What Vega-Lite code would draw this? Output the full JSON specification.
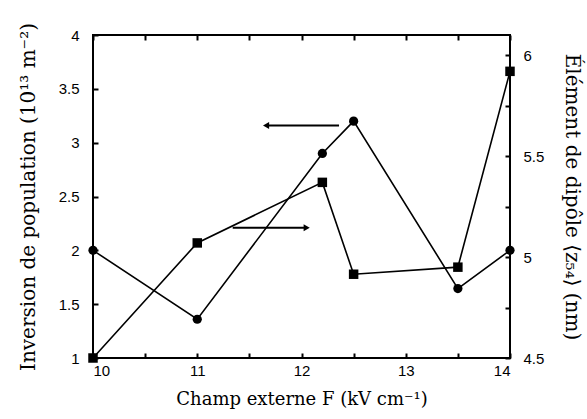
{
  "$schema": "https://vega.github.io/schema/vega-lite/v6.json",
  "autosize": {"type": "none"},
  "width": 417,
  "height": 323,
  "padding": {"left": 93, "top": 35, "right": 77, "bottom": 61},
  "background": "white",
  "config": {
    "view": {"stroke": "black", "strokeWidth": 2},
    "axis": {
      "domain": false,
      "grid": false,
      "ticks": true,
      "tickColor": "black",
      "tickWidth": 2,
      "tickSize": 5,
      "offset": -5,
      "labelFont": "Liberation Sans",
      "labelFontSize": 15,
      "labelColor": "black",
      "titleFont": "DejaVu Serif",
      "titleFontSize": 18,
      "titleFontWeight": "normal",
      "titleColor": "black"
    }
  },
  "datasets": {
    "pop": [
      {"F": 10, "v": 2.0},
      {"F": 11, "v": 1.36},
      {"F": 12.2, "v": 2.9},
      {"F": 12.5, "v": 3.2},
      {"F": 13.5, "v": 1.645},
      {"F": 14, "v": 2.0}
    ],
    "dip": [
      {"F": 10, "z": 4.5},
      {"F": 11, "z": 5.07},
      {"F": 12.2, "z": 5.37},
      {"F": 12.5, "z": 4.915},
      {"F": 13.5, "z": 4.95},
      {"F": 14, "z": 5.92}
    ],
    "arrows": [
      {"x1": 11.66, "x2": 12.36, "y": 3.16, "tip": 11.66, "dir": "left"},
      {"x1": 11.34, "x2": 12.05, "y": 2.21, "tip": 12.05, "dir": "right"}
    ]
  },
  "layer": [
    {
      "layer": [
        {
          "data": {"name": "pop"},
          "mark": {"type": "line", "color": "black", "strokeWidth": 1.6},
          "encoding": {
            "x": {
              "field": "F", "type": "quantitative",
              "scale": {"domain": [10, 14], "nice": false, "zero": false},
              "axis": {
                "orient": "bottom",
                "title": "Champ externe F (kV cm⁻¹)",
                "values": [10, 10.5, 11, 11.5, 12, 12.5, 13, 13.5, 14],
                "labelExpr": "datum.value % 1 == 0 ? datum.label : ''",
                "format": "~g",
                "labelPadding": 5,
                "titlePadding": 12
              }
            },
            "y": {
              "field": "v", "type": "quantitative",
              "scale": {"domain": [1, 4], "nice": false, "zero": false},
              "axis": {
                "title": "Inversion de population (10¹³ m⁻²)",
                "titleFontSize": 20,
                "values": [1, 1.25, 1.5, 1.75, 2, 2.25, 2.5, 2.75, 3, 3.25, 3.5, 3.75, 4],
                "labelExpr": "(datum.value * 2) % 1 == 0 ? datum.label : ''",
                "format": "~g",
                "labelPadding": 14,
                "titlePadding": 20
              }
            }
          }
        },
        {
          "data": {"name": "pop"},
          "mark": {"type": "point", "shape": "circle", "filled": true, "color": "black", "size": 85, "opacity": 1},
          "encoding": {
            "x": {"field": "F", "type": "quantitative"},
            "y": {"field": "v", "type": "quantitative"}
          }
        },
        {
          "data": {"name": "arrows"},
          "mark": {"type": "rule", "color": "black", "strokeWidth": 2},
          "encoding": {
            "x": {"field": "x1", "type": "quantitative"},
            "x2": {"field": "x2"},
            "y": {"field": "y", "type": "quantitative"}
          }
        },
        {
          "data": {"name": "arrows"},
          "mark": {"type": "point", "filled": true, "color": "black", "size": 50, "opacity": 1},
          "encoding": {
            "x": {"field": "tip", "type": "quantitative"},
            "y": {"field": "y", "type": "quantitative"},
            "shape": {
              "field": "dir", "type": "nominal",
              "scale": {"domain": ["left", "right"], "range": ["triangle-left", "triangle-right"]},
              "legend": null
            }
          }
        }
      ]
    },
    {
      "layer": [
        {
          "data": {"name": "dip"},
          "mark": {"type": "line", "color": "black", "strokeWidth": 1.6},
          "encoding": {
            "x": {
              "field": "F", "type": "quantitative",
              "scale": {"domain": [10, 14], "nice": false, "zero": false},
              "axis": {
                "orient": "top",
                "title": null,
                "labels": false,
                "values": [10, 10.5, 11, 11.5, 12, 12.5, 13, 13.5, 14]
              }
            },
            "y": {
              "field": "z", "type": "quantitative",
              "scale": {"domain": [4.5, 6.1], "nice": false, "zero": false},
              "axis": {
                "orient": "right",
                "title": "Élément de dipôle ⟨z₅₄⟩ (nm)",
                "titleFontSize": 20,
                "values": [4.5, 4.75, 5, 5.25, 5.5, 5.75, 6],
                "labelExpr": "(datum.value * 2) % 1 == 0 ? datum.label : ''",
                "format": "~g",
                "labelPadding": 13,
                "titlePadding": 18
              }
            }
          }
        },
        {
          "data": {"name": "dip"},
          "mark": {"type": "point", "shape": "square", "filled": true, "color": "black", "size": 90, "opacity": 1},
          "encoding": {
            "x": {"field": "F", "type": "quantitative"},
            "y": {"field": "z", "type": "quantitative"}
          }
        }
      ]
    }
  ],
  "resolve": {"scale": {"y": "independent"}, "axis": {"x": "independent"}}
}
